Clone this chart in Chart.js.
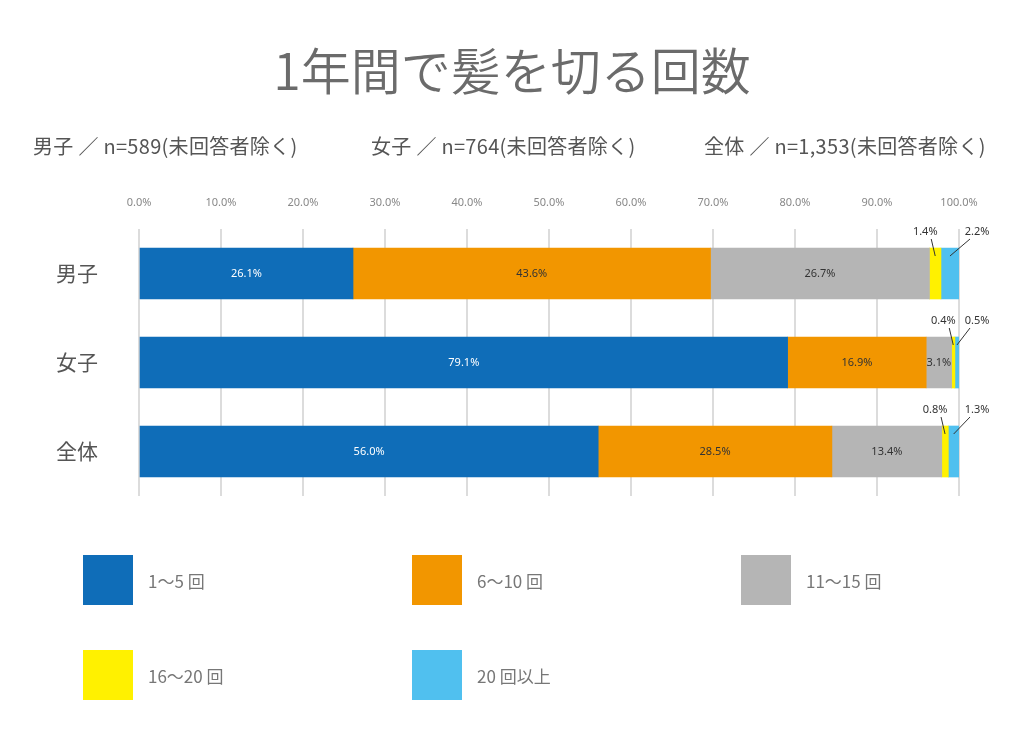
<!DOCTYPE html>
<html lang="ja">
<head>
<meta charset="utf-8">
<script src="https://cdn.jsdelivr.net/npm/chart.js@4"></script>
<style>
  html, body { margin: 0; padding: 0; background: #fff; }
  body { width: 1024px; height: 748px; position: relative; overflow: hidden;
         font-family: "Noto Sans CJK JP", "Noto Sans", sans-serif; }
  #wrap { position: absolute; left: 0; top: 0; width: 1024px; height: 748px; }
  .title { position: absolute; left: 0; width: 1024px; top: 32px; text-align: center;
           font-size: 50px; color: #6b6b6b; font-weight: 350; }
  .sub { position: absolute; top: 131px; font-size: 20px; color: #555; white-space: nowrap;
         letter-spacing: 0.3px; }
  .legend-item { position: absolute; height: 50px; display: flex; align-items: center; }
  .legend-item .box { width: 50px; height: 50px; margin-right: 15px; }
  .legend-item span { font-size: 17px; color: #777; }
</style>
</head>
<body>
<div id="wrap"><canvas id="chart" width="1024" height="748"></canvas></div>
<div class="title">1年間で髪を切る回数</div>
<div class="sub" style="left:33px">男子 ／ n=589(未回答者除く)</div>
<div class="sub" style="left:371px">女子 ／ n=764(未回答者除く)</div>
<div class="sub" style="left:704px">全体 ／ n=1,353(未回答者除く)</div>
<div id="legend"></div>
<script>
const categories = ["男子", "女子", "全体"];
const seriesNames = ["1〜5 回", "6〜10 回", "11〜15 回", "16〜20 回", "20 回以上"];
const seriesColors = ["#0f6db8", "#f29600", "#b5b5b5", "#fff100", "#50c0ef"];
const times1to5 = [26.1, 79.1, 56.0];
const times6to10 = [43.6, 16.9, 28.5];
const times11to15 = [26.7, 3.1, 13.4];
const times16to20 = [1.4, 0.4, 0.8];
const times20plus = [2.2, 0.5, 1.3];
const xTicks = [0, 10, 20, 30, 40, 50, 60, 70, 80, 90, 100];

const seriesValues = [times1to5, times6to10, times11to15, times16to20, times20plus];

// legend (two rows, three columns)
const legendEl = document.getElementById("legend");
const legendCols = [83, 412, 741];
const legendRows = [555, 650];
seriesNames.forEach((name, i) => {
    const item = document.createElement("div");
    item.className = "legend-item";
    item.style.left = legendCols[i % 3] + "px";
    item.style.top = legendRows[Math.floor(i / 3)] + "px";
    item.innerHTML = `<div class="box" style="background:${seriesColors[i]}"></div><span>${name}</span>`;
    legendEl.appendChild(item);
});

const barLabels = {
    id: "barLabels",
    afterDatasetsDraw(chart) {
        const ctx = chart.ctx;
        ctx.save();
        ctx.font = "11px 'Noto Sans', 'Open Sans', sans-serif";
        ctx.textBaseline = "middle";
        ctx.textAlign = "center";
        chart.data.datasets.forEach((ds, i) => {
            const meta = chart.getDatasetMeta(i);
            meta.data.forEach((bar, j) => {
                const v = ds.data[j];
                const text = v.toFixed(1) + "%";
                const mid = (bar.x + bar.base) / 2;
                const top = bar.y - bar.height / 2;
                if (i < 3) {
                    ctx.fillStyle = i === 0 ? "#ffffff" : "#333333";
                    ctx.fillText(text, mid, bar.y);
                    return;
                }
                let lx;
                let fromX;
                if (i === 3) {
                    lx = mid - 10;
                    fromX = lx + 6;
                } else {
                    lx = chart.chartArea.right + 18;
                    fromX = lx - 7;
                }
                ctx.fillStyle = "#333333";
                ctx.fillText(text, lx, top - 16);
                ctx.strokeStyle = "#333333";
                ctx.lineWidth = 1;
                ctx.beginPath();
                ctx.moveTo(fromX, top - 9);
                ctx.lineTo(mid, top + 8);
                ctx.stroke();
            });
        });
        ctx.restore();
    }
};

new Chart(document.getElementById("chart"), {
    type: "bar",
    data: {
        labels: categories,
        datasets: seriesValues.map((values, i) => ({
            label: seriesNames[i],
            data: values,
            backgroundColor: seriesColors[i],
            borderWidth: 0,
            barThickness: 51
        }))
    },
    options: {
        indexAxis: "y",
        responsive: false,
        animation: false,
        layout: { padding: { left: 0, right: 65, top: 180, bottom: 252 } },
        plugins: {
            legend: { display: false },
            tooltip: { enabled: false }
        },
        scales: {
            x: {
                position: "top",
                stacked: true,
                min: 0,
                max: 100,
                afterBuildTicks: (scale) => {
                    scale.ticks = xTicks.map((v) => ({ value: v }));
                },
                afterFit: (scale) => { scale.height = 49; },
                ticks: {
                    color: "#888",
                    padding: 20,
                    font: { size: 11, family: "'Noto Sans', 'Open Sans', sans-serif" },
                    callback: (v) => Number(v).toFixed(1) + "%"
                },
                grid: { color: "#dcdcdc", lineWidth: 2, drawTicks: false },
                border: { display: false }
            },
            y: {
                stacked: true,
                afterFit: (scale) => { scale.width = 139; },
                ticks: {
                    color: "#555",
                    padding: 41,
                    font: { size: 21, family: "'Noto Sans CJK JP', sans-serif" }
                },
                grid: { display: false, drawTicks: false },
                border: { display: false }
            }
        }
    },
    plugins: [barLabels]
});
</script>
</body>
</html>
